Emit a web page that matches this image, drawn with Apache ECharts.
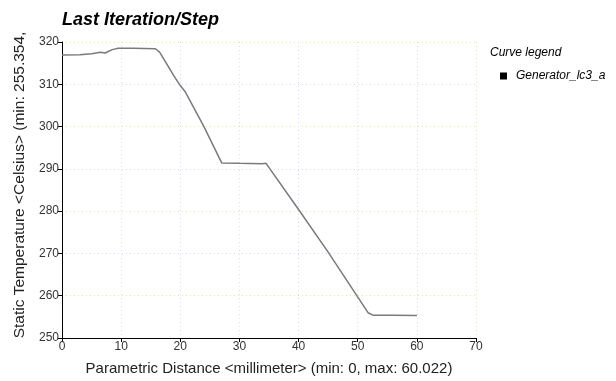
<!DOCTYPE html>
<html>
<head>
<meta charset="utf-8">
<style>
  html, body { margin: 0; padding: 0; background: #fff; }
  #chart { width: 616px; height: 381px; }
</style>
<script src="https://cdn.jsdelivr.net/npm/echarts@6/dist/echarts.min.js"></script>
</head>
<body>
<div id="chart"></div>
<script>
// distance along the path (mm) and temperature (Celsius)
const distance = [0, 3, 5, 6.5, 7.3, 8.5, 9.5, 12, 15.8, 16.5, 17.5, 19, 20, 20.8, 24, 27, 30, 33.8, 34.5, 40, 45, 51.8, 52.6, 56, 60.022]
const temperature = [316.9, 317.0, 317.2, 317.6, 317.4, 318.2, 318.5, 318.5, 318.4, 317.6, 315.3, 311.8, 309.7, 308.3, 300.0, 291.4, 291.3, 291.2, 291.3, 280.4, 270.3, 255.9, 255.4, 255.4, 255.35]
const curveName = 'Generator_lc3_a'

const xTicks = { min: 0, max: 70, interval: 10 }
const yTicks = { min: 250, max: 320, interval: 10 }

const points = distance.map((d, i) => [d, temperature[i]])

const chart = echarts.init(document.getElementById('chart'))
const font = 'Arial, "Liberation Sans", sans-serif'

chart.setOption({
  animation: false,
  title: [{
    text: 'Last Iteration/Step',
    left: 57,
    top: 6,
    textStyle: { fontFamily: font, fontSize: 18, fontWeight: 'bold', fontStyle: 'italic', color: '#000' }
  }, {
    text: 'Curve legend',
    left: 485,
    top: 42,
    textStyle: { fontFamily: font, fontSize: 12, fontWeight: 'normal', fontStyle: 'italic', color: '#000' }
  }],
  legend: {
    left: 495,
    top: 65,
    orient: 'vertical',
    icon: 'rect',
    itemWidth: 7,
    itemHeight: 7,
    itemGap: 6,
    data: [{ name: curveName, itemStyle: { color: '#000' } }],
    textStyle: { fontFamily: font, fontSize: 12, fontStyle: 'italic', color: '#000', padding: [0, 0, 0, 4] }
  },
  grid: { left: 62, right: 140, top: 42, bottom: 40 },
  xAxis: {
    type: 'value',
    min: xTicks.min,
    max: xTicks.max,
    interval: xTicks.interval,
    name: 'Parametric Distance <millimeter> (min: 0, max: 60.022)',
    nameLocation: 'middle',
    nameGap: 23,
    nameTextStyle: { fontFamily: font, fontSize: 15, color: '#222' },
    axisLine: { lineStyle: { color: '#000', width: 1 } },
    axisTick: { show: true, length: 4, lineStyle: { color: '#000' } },
    axisLabel: { fontFamily: font, fontSize: 12, color: '#333', margin: 3 },
    splitLine: { show: true, lineStyle: { type: [1, 3], color: ['#d8d8f4', '#e4e4b8'] } }
  },
  yAxis: {
    type: 'value',
    min: yTicks.min,
    max: yTicks.max,
    interval: yTicks.interval,
    name: 'Static Temperature <Celsius> (min: 255.354,',
    nameLocation: 'middle',
    nameRotate: 90,
    nameGap: 28,
    nameTextStyle: { fontFamily: font, fontSize: 15.5, color: '#222', padding: [0, 0, 0, 10] },
    axisLine: { show: true, lineStyle: { color: '#000', width: 1 } },
    axisTick: { show: true, length: 4, lineStyle: { color: '#000' } },
    axisLabel: { fontFamily: font, fontSize: 12, color: '#333', margin: 3 },
    splitLine: { show: true, lineStyle: { type: [1, 3], color: ['#d8d8f4', '#e4e4b8'] } }
  },
  series: [{
    name: curveName,
    type: 'line',
    data: points,
    showSymbol: false,
    symbol: 'none',
    lineStyle: { color: '#7a7a7a', width: 1.5 },
    itemStyle: { color: '#7a7a7a' }
  }]
})
</script>
</body>
</html>
